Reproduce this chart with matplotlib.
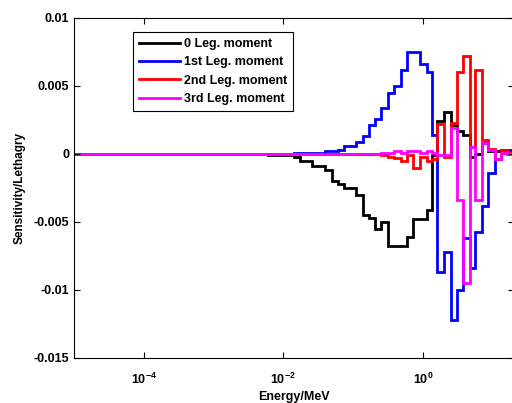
import numpy as np
import matplotlib
matplotlib.use("Agg")
import matplotlib.pyplot as plt

# Energy group boundaries (MeV)
edges = [1e-5, 1e-4, 1e-3, 3e-3, 6e-3, 0.01, 0.0143, 0.0174, 0.0212, 0.0258,
         0.032, 0.0397, 0.0494, 0.0609, 0.0742, 0.0906, 0.112, 0.137, 0.170,
         0.207, 0.252, 0.313, 0.388, 0.480, 0.589, 0.733, 0.914, 1.134, 1.346,
         1.588, 1.99, 2.5, 3.06, 3.75, 4.69, 5.68, 7.02, 8.73, 10.7, 13.1,
         15.9, 20.0]

leg0 = [0, 0, 0, 0, -0.00005, -0.0001, -0.0002, -0.0005, -0.0005,
        -0.00085, -0.00085, -0.0012, -0.002, -0.0022, -0.0025, -0.0025, -0.003,
        -0.0045, -0.0047, -0.0055, -0.005, -0.0068, -0.0068, -0.0068, -0.0061,
        -0.0048, -0.0048, -0.0041, -0.0001, 0.0024, 0.0031, 0.0021, 0.0017,
        0.0014, -0.0002, 0.0, 0.0008, 0.0002, 0.0002, 0.0001, 0.0]

leg1 = [0, 0, 0, 0, 0, 0.00003, 0.00005, 0.00005, 0.00008, 0.0001, 0.0001,
        0.0002, 0.0002, 0.0003, 0.0006, 0.0006, 0.0009, 0.0013, 0.0021, 0.0026,
        0.0034, 0.0045, 0.005, 0.0062, 0.0075, 0.0075, 0.0066, 0.006, 0.0014,
        -0.0087, -0.0072, -0.0122, -0.0100, -0.0062, -0.0084, -0.0057, -0.0038,
        -0.0014, -0.0004, 0.0003, 0.0003]

leg2 = [0, 0, 0, 0, 0, 0, 0, 0, 0, 0, 0, 0, 0, 0, 0, 0, 0, 0, 0, 0,
        -0.0001, -0.0002, -0.0003, -0.0005, -0.0001, -0.001, -0.0002, -0.0005,
        -0.0004, 0.0022, -0.0002, 0.0023, 0.006, 0.0072, 0.0005, 0.0062, 0.001,
        0.0004, -0.0004, 0.0003, 0.0001]

leg3 = [0, 0, 0, 0, 0, 0, 0, 0, 0, 0, 0, 0, 0, 0, 0, 0, 0, 0, 0, 0,
        0.00005, 0.0001, 0.0002, 0.0001, 0.0002, 0.0002, 0.0001, 0.0002,
        0.0001, -0.0001, -0.0001, 0.0019, -0.0034, -0.0095, 0.0005, -0.0034,
        0.0008, 0.0003, -0.0004, 0.0001, 0.0]

labels = ["0 Leg. moment", "1st Leg. moment", "2nd Leg. moment", "3rd Leg. moment"]
colors = ["black", "blue", "red", "magenta"]
series = [leg0, leg1, leg2, leg3]

yticks = [0.01, 0.005, 0, -0.005, -0.01, -0.015]
ytick_labels = ["0.01", "0.005", "0", "-0.005", "-0.01", "-0.015"]
xticks = [1e-4, 1e-2, 1e0]
xtick_labels = [r"$\mathbf{10^{-4}}$", r"$\mathbf{10^{-2}}$", r"$\mathbf{10^{0}}$"]

plt.rcParams['font.family'] = ['Liberation Sans', 'DejaVu Sans']
plt.rcParams['mathtext.fontset'] = 'custom'
plt.rcParams['mathtext.rm'] = 'Liberation Sans'
plt.rcParams['mathtext.bf'] = 'Liberation Sans:bold'

fig = plt.figure(figsize=(5.12, 4.03), dpi=100)
ax = fig.add_axes([0.1445, 0.1117, 0.8585, 0.8437])

for vals, c, lab in zip(series, colors, labels):
    ax.stairs(vals, edges, color=c, linewidth=2.0, label=lab, baseline=None)

ax.set_xscale('log')
ax.set_xlim(1e-5, 20)
ax.set_ylim(-0.015, 0.01)
ax.set_xticks(xticks)
ax.set_xticklabels(xtick_labels)
ax.minorticks_off()
ax.set_yticks(yticks)
ax.set_yticklabels(ytick_labels)
ax.tick_params(direction='in', top=True, right=True, length=4, width=0.8,
               labelsize=9)
ax.tick_params(axis='x', pad=10)
for t in ax.get_yticklabels() + ax.get_xticklabels():
    t.set_fontweight('bold')
for s in ax.spines.values():
    s.set_linewidth(0.8)

ax.set_xlabel("Energy/MeV", fontsize=9, fontweight='bold', labelpad=3)
ax.set_ylabel("Sensitivity/Lethagry", fontsize=8.5, fontweight='bold', labelpad=6)

leg = ax.legend(loc='upper left', bbox_to_anchor=(0.134, 0.959), borderaxespad=0,
                fancybox=False, edgecolor='black', framealpha=1,
                prop={'weight': 'bold', 'size': 9}, handlelength=3.3,
                labelspacing=0.5, handletextpad=0.25, borderpad=0.5)
leg.get_frame().set_linewidth(0.8)

fig.savefig("out.png", dpi=100)
